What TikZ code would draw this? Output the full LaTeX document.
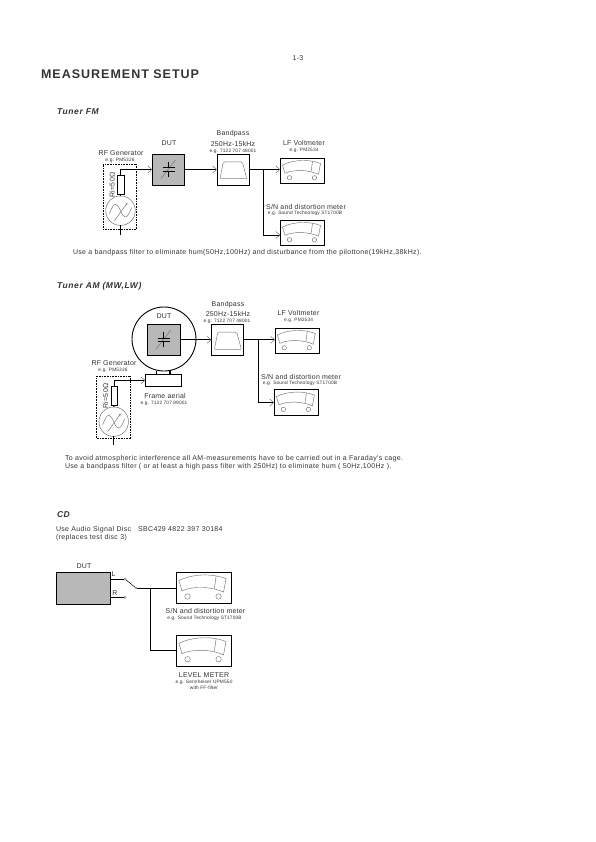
\documentclass[tikz,border=0pt]{standalone}
\usepackage{fontspec}
\setmainfont[LetterSpace=3]{Liberation Sans}
\newfontfamily\parafont[LetterSpace=5]{Liberation Sans}
\newfontfamily\headfont[LetterSpace=7]{Liberation Sans}
\newfontfamily\titlefont[LetterSpace=8]{Liberation Sans}
\usepackage{tikz}
\usetikzlibrary{arrows.meta, positioning, calc}
\definecolor{inkgray}{gray}{0.2}
\definecolor{dutgray}{gray}{0.72}
\definecolor{dialgray}{gray}{0.45}
\tikzset{
  every node/.style={inner sep=0pt, outer sep=0pt, text=inkgray},
  lbl/.style={font=\fontsize{7}{8}\selectfont},
  partno/.style={font=\fontsize{4.8}{5.6}\selectfont, align=center},
  para/.style={font=\fontsize{7}{8}\selectfont\parafont, anchor=west},
  heading/.style={font=\fontsize{8.5}{9.5}\selectfont\headfont\bfseries\itshape, anchor=west},
  box/.style={draw=black, line width=0.9pt},
  dutbox/.style={box, fill=dutgray, minimum width=32.5pt, minimum height=31pt},
  bpbox/.style={box, fill=white, minimum width=32pt, minimum height=31pt},
  meterbox/.style={box, fill=white, minimum width=44.5pt, minimum height=25.4pt},
  resbox/.style={draw=black, line width=0.7pt, fill=white, minimum width=6.8pt, minimum height=18.5pt},
  genring/.style={draw=dialgray, line width=0.5pt, circle, fill=white, minimum size=29.5pt},
  gendots/.style={draw=black, densely dotted, line width=0.6pt},
  wire/.style={draw=black, line width=0.9pt},
  feed/.style={wire, -{Straight Barb[length=4pt, width=7pt, color=dialgray, line width=0.5pt]}},
  meter dial/.pic={
    \draw[dialgray, line width=0.45pt] (-20,-6) .. controls (-9,-11.5) and (7,-12) .. (18,-7.5)
      -- (16,3.3) .. controls (7,-1) and (-8,-2) .. (-17.5,2.3) -- cycle;
    \draw[dialgray, line width=0.45pt] (10,-9.5) -- (8.6,0.4);
    \draw[dialgray, line width=0.45pt] (-13,6.8) circle (2.2) (12,6.8) circle (2.2);
  },
  filter curve/.pic={
    \draw[dialgray, line width=0.45pt, rounded corners=1.5pt] (-13,9) -- (-9.7,-7.7) -- (9.3,-7.7) -- (13.7,9);
    \draw[dialgray!60, line width=0.45pt] (-13,9) -- (13.7,9);
  },
  varcap/.pic={
    \draw[dialgray, line width=0.5pt] (-7.5,9) -- (7,-9.5);
    \draw[black, line width=0.6pt] (-6,-1.7) -- (6,-1.7) (-6,1.7) -- (6,1.7) (0,-7.5) -- (0,-1.7) (0,1.7) -- (0,7.5);
  },
  gen wave/.pic={
    \draw[dialgray, line width=0.45pt] (-11,3) .. controls (-6,-11) and (-3,-7) .. (0,0)
      .. controls (3,7) and (6,11) .. (11,-3);
    \draw[dialgray, line width=0.45pt, -{Stealth[length=2.5pt]}] (-6,10) -- (7,-8);
  }
}

\begin{document}
\begin{tikzpicture}[x=1pt, y=-1pt]
\useasboundingbox (0,0) rectangle (596,842);

\node[lbl] (pagenr) at (298,58.5) {1-3};
\node[font=\fontsize{12.5}{14}\selectfont\titlefont\bfseries, anchor=west] (title) at (41,74.5) {MEASUREMENT SETUP};

% FM
\node[heading] (fmhead) at (57,112) {Tuner FM};
\node[dutbox] (fmdut) at (168.5,169.5) {};
\pic at (fmdut.center) {varcap};
\node[lbl] (fmdutlbl) at (169,143) {DUT};
\node[bpbox] (fmbp) at (233,169.5) {};
\pic at (fmbp.center) {filter curve};
\node[lbl] (fmbplbl) at (233,134) {Bandpass};
\node[lbl] (fmbprange) at (233,144) {250Hz-15kHz};
\node[partno] (fmbpno) at (233,151) {e.g. 7122 707 48001};
\node[lbl] (fmgenlbl) at (121,153.5) {RF Generator};
\node[partno] (fmgenno) at (120,160) {e.g. PM5326};
\node[gendots, minimum width=33.5pt, minimum height=65pt] (fmdots) at (120,196.5) {};
\node[resbox] (fmres) at (120.5,185) {};
\node[genring] (fmgen) at (120.5,210.7) {};
\pic at (fmgen.center) {gen wave};
\node[lbl, rotate=90] (fmrlbl) at (112,185) {Ri=50Ω};
\coordinate (fmgnd) at (120.5,235);
\draw[wire] (fmres.south) -- (fmgen.north);
\draw[wire] (fmgen.south) -- (fmgnd);
\draw[feed] (fmres.north) |- (fmdut.west);
\draw[feed] (fmdut.east) -- (fmbp.west);

\node[meterbox] (fmlf) at (302.5,171) {};
\pic at (fmlf.center) {meter dial};
\node[lbl] (fmlflbl) at (304,143) {LF Voltmeter};
\node[partno] (fmlfno) at (304,150) {e.g. PM2534};
\node[meterbox] (fmsn) at (302.5,233) {};
\pic at (fmsn.center) {meter dial};
\node[lbl] (fmsnlbl) at (306,207) {S/N and distortion meter};
\node[partno] (fmsnno) at (305,213.5) {e.g. Sound Technology ST1700B};
\coordinate (fmjoin) at (263.7,169.5);
\draw[wire] (fmbp.east) -- (fmjoin);
\draw[feed] (fmjoin) -- (fmlf.west |- fmjoin);
\draw[feed] (fmjoin) |- ([yshift=-2pt]fmsn.west);
\node[para] (fmnote) at (73,253) {Use a bandpass filter to eliminate hum(50Hz,100Hz) and disturbance from the pilottone(19kHz,38kHz).};

% AM
\node[heading] (amhead) at (57,286) {Tuner AM (MW,LW)};
\node[draw=black, line width=0.9pt, circle, minimum size=64pt] (amring) at (164,339) {};
\node[dutbox] (amdut) at (163.7,339.8) {};
\pic at (amdut.center) {varcap};
\node[lbl] (amdutlbl) at (164,316) {DUT};
\node[box, fill=white, minimum width=36pt, minimum height=12pt] (amframe) at (163.3,380.3) {};
\draw[wire, line width=1.2pt] (amring.south -| 156.7,0) -- (156.7,0 |- amframe.north);
\draw[wire, line width=1.2pt] (amring.south -| 170,0) -- (170,0 |- amframe.north);
\node[lbl] (amframelbl) at (165,396) {Frame aerial};
\node[partno] (amframeno) at (164,403) {e.g. 7122 707 89001};
\node[bpbox] (ambp) at (227.5,339.8) {};
\pic at (ambp.center) {filter curve};
\node[lbl] (ambplbl) at (228,304.5) {Bandpass};
\node[lbl] (ambprange) at (228,314) {250Hz-15kHz};
\node[partno] (ambpno) at (227,321) {e.g. 7122 707 48001};
\node[lbl] (amgenlbl) at (114,363) {RF Generator};
\node[partno] (amgenno) at (113,370) {e.g. PM5326};
\node[gendots, minimum width=34pt, minimum height=62.7pt] (amdots) at (113.7,407.3) {};
\node[resbox] (amres) at (114.3,396) {};
\node[genring] (amgen) at (113.7,421.7) {};
\pic at (amgen.center) {gen wave};
\node[lbl, rotate=90] (amrlbl) at (105.5,396) {Ri=50Ω};
\coordinate (amgnd) at (113.7,445);
\draw[wire] (amres.south) -- (amgen.north);
\draw[wire] (amgen.south) -- (amgnd);
\draw[feed] (amres.north) |- (amframe.west);
\draw[feed] (amdut.east) -- (ambp.west);

\node[meterbox] (amlf) at (297.3,341) {};
\pic at (amlf.center) {meter dial};
\node[lbl] (amlflbl) at (298.5,313) {LF Voltmeter};
\node[partno] (amlfno) at (298.5,320.5) {e.g. PM2534};
\node[meterbox] (amsn) at (296.4,402.6) {};
\pic at (amsn.center) {meter dial};
\node[lbl] (amsnlbl) at (301,377) {S/N and distortion meter};
\node[partno] (amsnno) at (300,383.5) {e.g. Sound Technology ST1700B};
\coordinate (amjoin) at (258.3,339.8);
\draw[wire] (ambp.east) -- (amjoin);
\draw[feed] (amjoin) -- (amlf.west |- amjoin);
\draw[feed] (amjoin) |- (amsn.west);
\node[para] (amnote) at (65,459) {To avoid atmospheric interference all AM-measurements have to be carried out in a Faraday's cage.};
\node[para] (amnote2) at (65,466.5) {Use a bandpass filter ( or at least a high pass filter with 250Hz) to eliminate hum ( 50Hz,100Hz ).};

% CD
\node[heading] (cdhead) at (57,515) {CD};
\node[para] (cdnote) at (56,530) {Use Audio Signal Disc \ \ SBC429 4822 397 30184};
\node[para] (cdnote2) at (56,538) {(replaces test disc 3)};
\node[box, fill=dutgray, minimum width=54.4pt, minimum height=32pt] (cddut) at (83.5,588.3) {};
\node[lbl] (cddutlbl) at (84,566) {DUT};
\node[lbl] (cdl) at (113.5,574.5) {L};
\node[lbl] (cdr) at (115,593.5) {R};
\node[draw=dialgray, circle, line width=0.4pt, minimum size=2.4pt] (cdlpin) at (125,579) {};
\node[draw=dialgray, circle, line width=0.4pt, minimum size=2.4pt] (cdrpin) at (125,597.3) {};
\node[draw=dialgray, circle, line width=0.4pt, minimum size=2.4pt] (cdwiper) at (136,588) {};
\draw[wire] (cddut.east |- cdlpin) -- (cdlpin);
\draw[wire] (cddut.east |- cdrpin) -- (cdrpin);
\draw[wire, line width=0.5pt] (cdlpin) -- (cdwiper);

\node[box, fill=white, minimum width=55.3pt, minimum height=31.5pt] (cdsn) at (203.7,588) {};
\pic[scale=1.24] at (cdsn.center) {meter dial};
\node[lbl] (cdsnlbl) at (205.5,611) {S/N and distortion meter};
\node[partno] (cdsnno) at (204.5,618) {e.g. Sound Technology ST1700B};
\node[box, fill=white, minimum width=55.3pt, minimum height=31.7pt] (cdlevel) at (203.7,650.8) {};
\pic[scale=1.24] at (cdlevel.center) {meter dial};
\node[lbl] (cdlevellbl) at (204,675) {LEVEL METER};
\node[partno] (cdlevelno) at (204,685) {e.g. Sennheiser UPM550\\with FF-filter};
\coordinate (cdjoin) at (150.7,588);
\draw[wire] (cdwiper) -- (cdsn.west);
\draw[wire] (cdjoin) |- (cdlevel.west);
\end{tikzpicture}
\end{document}
